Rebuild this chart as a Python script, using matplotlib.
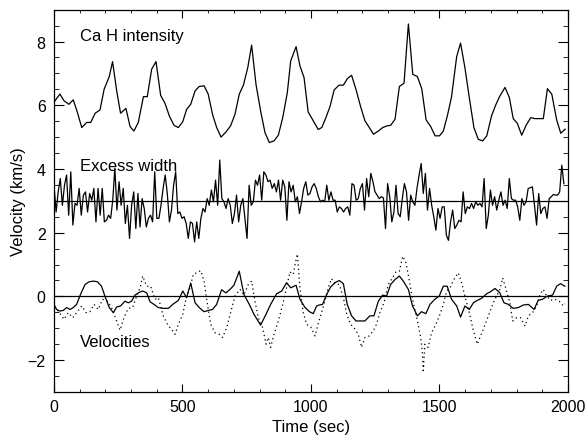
import numpy as np
import matplotlib
matplotlib.use('Agg')
import matplotlib.pyplot as plt
from matplotlib.ticker import MultipleLocator

plt.rcParams['font.family'] = ['Liberation Sans', 'DejaVu Sans']

# Ca H intensity
cah_time = [4, 23, 39, 58, 75, 92, 108, 127, 143, 160, 179, 195, 215, 228, 244, 259, 280, 296, 311, 328,
            348, 363, 380, 397, 415, 432, 449, 467, 484, 501, 516, 532, 549, 565, 584, 600, 617, 633, 650, 669,
            687, 704, 721, 737, 754, 769, 786, 804, 821, 838, 856, 873, 890, 908, 921, 942, 957, 973, 989, 1009,
            1028, 1042, 1058, 1074, 1090, 1109, 1126, 1142, 1158, 1175, 1193, 1210, 1227, 1243, 1262, 1279, 1295,
            1310, 1327, 1344, 1362, 1379, 1396, 1414, 1431, 1448, 1466, 1483, 1500, 1515, 1531, 1547, 1567, 1582,
            1599, 1616, 1634, 1651, 1668, 1684, 1703, 1720, 1735, 1755, 1772, 1787, 1803, 1820, 1837, 1855, 1872,
            1888, 1904, 1920, 1937, 1956, 1972, 1989]
cah_vals = [6.14, 6.35, 6.14, 6.03, 6.17, 5.75, 5.30, 5.46, 5.46, 5.75, 5.85, 6.50, 6.90, 7.37, 6.45, 5.75,
            5.90, 5.33, 5.19, 5.46, 6.27, 6.27, 7.13, 7.37, 6.31, 6.06, 5.66, 5.37, 5.30, 5.48, 5.87, 6.03,
            6.45, 6.59, 6.61, 6.35, 5.71, 5.30, 5.00, 5.16, 5.35, 5.71, 6.35, 6.63, 7.18, 7.89, 6.66, 5.82,
            5.14, 4.83, 4.88, 5.06, 5.61, 6.40, 7.39, 7.84, 7.24, 6.87, 5.79, 5.51, 5.24,
            5.30, 5.61, 5.96, 6.48, 6.63, 6.63, 6.84, 6.94, 6.50, 5.96, 5.51, 5.30, 5.09, 5.19, 5.30, 5.35,
            5.37, 5.56, 6.59, 6.69, 8.55, 6.97, 6.90, 6.52, 5.54, 5.33, 5.04, 5.04, 5.19, 5.68, 6.27, 7.53,
            7.95, 7.18, 6.24, 5.30, 4.93, 4.88, 5.04, 5.68, 6.03, 6.29, 6.56, 6.24, 5.58, 5.43, 5.06, 5.37,
            5.61, 5.58, 5.58, 5.58, 6.52, 6.35, 5.54, 5.12, 5.25]

# excess width, sampled evenly from 0 to ~1984 s
width_start, width_end = 0, 1984
width_vals = [3.49, 2.65, 3.28, 3.70, 2.86, 3.49, 3.81, 2.55, 3.91, 2.24, 2.92, 2.86, 3.39, 2.55, 3.18, 3.28,
              2.65, 3.23, 3.02, 3.39, 2.34, 3.39, 2.55, 3.39, 2.34, 2.39, 2.55, 2.45, 3.02, 4.02, 2.71, 3.60,
              2.86, 3.39, 2.29, 2.86, 1.82, 2.86, 3.28, 2.13, 3.23, 2.18, 3.07, 2.76, 2.18, 2.45, 2.55, 2.34,
              3.91, 2.45, 2.45, 2.86, 3.39, 3.81, 3.23, 2.34, 2.71, 3.49, 3.91, 2.60, 2.65, 2.45, 2.50, 2.29,
              1.82, 2.34, 2.29, 1.71, 2.34, 1.82, 2.45, 2.76, 2.65, 3.07, 2.86, 3.34, 2.97, 3.65, 2.86, 4.28,
              3.07, 2.97, 2.76, 3.07, 2.86, 2.29, 2.60, 3.18, 2.34, 2.86, 3.07, 2.45, 1.82, 3.49, 2.86, 2.97,
              3.65, 3.49, 3.81, 3.02, 3.91, 3.81, 3.60, 3.65, 3.39, 3.54, 3.28, 3.65, 3.02, 3.65, 3.44, 2.39,
              3.60, 3.28, 3.49, 2.97, 3.13, 2.60, 2.97, 3.39, 3.60, 3.18, 3.23, 3.44, 3.54, 3.39, 3.13, 2.97,
              3.02, 2.97, 3.49,
              3.02, 3.28, 3.02, 3.02, 2.65, 2.81, 2.76, 2.65, 2.76, 2.81, 2.55, 3.54, 3.49, 3.02, 3.07, 3.39,
              3.54, 2.71, 3.70, 3.13, 3.86, 3.60, 3.28, 3.18, 3.07, 3.13, 3.09, 2.13, 3.54, 3.13, 2.34, 2.65,
              3.49, 2.60, 2.50, 3.07, 3.54, 3.28, 2.39, 3.18, 2.97, 2.86, 3.39, 3.81, 4.17, 3.23, 3.86, 2.71,
              3.39, 2.86, 2.50, 2.08, 2.76, 2.45, 2.81, 2.81, 1.92, 1.76, 2.34, 2.71, 2.13, 2.24, 2.39, 2.34,
              3.28, 2.60, 2.81, 2.76, 2.92, 2.76, 2.97, 2.86, 2.92, 2.81, 3.70, 2.13, 2.55, 3.34, 2.86, 3.13,
              2.71, 3.02, 3.28, 2.86, 3.02, 2.76, 3.70, 3.07, 3.02, 3.02, 2.81, 2.39, 3.07, 2.86, 2.97, 3.39,
              3.41, 3.44, 2.86, 2.24, 3.23, 2.60, 2.76, 2.81, 2.45, 3.07, 3.13, 3.20, 3.18, 3.18, 3.28, 4.12,
              3.54]
width_level = 3.0

# velocities: solid and dotted curves
vel_solid_time = [0, 10, 23, 36, 49, 62, 75, 88, 104, 121, 137, 153, 169, 185, 198, 215, 231, 244, 259, 276,
                  289, 302, 315, 328, 345, 361, 374, 389, 406, 425, 445, 462, 484, 501, 516, 532, 549, 565, 584,
                  601, 617, 633, 652, 669, 685, 700, 721, 739, 760, 778, 804, 825, 843, 866, 886, 905, 921, 942,
                  957, 977, 994, 1009, 1022, 1032,
                  1045, 1061, 1076, 1093, 1110, 1126, 1141, 1158, 1175, 1191, 1210, 1229, 1245, 1262, 1279, 1294,
                  1310, 1327, 1344, 1359, 1379, 1395, 1414, 1430, 1447, 1463, 1482, 1499, 1515, 1530, 1547, 1567,
                  1582, 1599, 1616, 1632, 1647, 1664, 1683, 1699, 1716, 1735, 1751, 1768, 1787, 1807, 1826, 1846,
                  1868, 1884, 1901, 1919, 1940, 1956, 1971, 1988]
vel_solid = [-0.25, -0.41, -0.46, -0.44, -0.35, -0.41, -0.35, -0.25, 0.08, 0.375, 0.46, 0.48, 0.46, 0.32, 0.01,
             -0.35, -0.51, -0.33, -0.30, -0.15, -0.20, -0.15, 0.04, 0.11, 0.17, 0.11, -0.17, -0.25, -0.35,
             -0.375, -0.375, -0.25, -0.125, 0.17, -0.04, 0.42, -0.20, -0.35, -0.48, -0.44, -0.41, -0.25, 0.21,
             0.11, 0.22, 0.35, 0.79, 0.06, -0.25, -0.56, -0.90, -0.56, -0.25, 0.08, 0.17, 0.43, 0.27, 0.35,
             -0.09, -0.35, -0.48, -0.54, -0.30, -0.27,
             -0.25, 0.06, 0.29, 0.43, 0.50, 0.40, -0.25, -0.61, -0.77, -0.77, -0.77, -0.61, -0.61, -0.15, 0.04,
             0.01, 0.375, 0.53, 0.64, 0.48, 0.22, -0.30, -0.61, -0.48, -0.54, -0.25, -0.09, 0.01, 0.32, 0.32,
             -0.09, -0.30, -0.65, -0.30, -0.41, -0.20, -0.125, -0.06, 0.08, 0.15, 0.25, 0.11, -0.20, -0.25,
             -0.375, -0.35, -0.27, -0.25, -0.41, -0.125, -0.09, 0.01, 0.04, 0.32, 0.40, 0.32]

vel_dot_time = [0, 17, 39, 56, 73, 88, 108, 125, 140, 156, 172, 189, 208, 224, 241, 257, 272, 289, 306, 322,
                335, 345, 361, 376, 393, 406, 425, 445, 458, 471, 484, 501, 516, 529, 542, 555, 571, 584, 597,
                610, 626, 643, 656, 672, 687, 704, 724, 739, 756, 769, 782, 795, 812, 825, 834, 843, 856, 873,
                890, 905, 918, 931, 938, 947, 957, 970, 983, 999, 1016, 1029,
                1041, 1054, 1067, 1080, 1093, 1110, 1126, 1139, 1154, 1167, 1184, 1197, 1210, 1227, 1242, 1255,
                1268, 1284, 1301, 1318, 1331, 1344, 1357, 1370, 1383, 1398, 1414, 1427, 1433, 1437, 1443, 1456,
                1469, 1486, 1502, 1515, 1528, 1541, 1556, 1573, 1586, 1599, 1616, 1632, 1647, 1660, 1673, 1690,
                1707, 1722, 1735, 1746, 1761, 1774, 1785, 1800, 1816, 1833, 1846, 1862, 1878, 1891, 1904, 1917,
                1932, 1949, 1966, 1982, 1988]
vel_dot = [-0.35, -0.46, -0.72, -0.51, -0.67, -0.51, -0.30, -0.51, -0.48, -0.25, -0.41, -0.09, -0.15, -0.35,
           -0.72, -1.06, -0.67, -0.375, -0.35, 0.01, 0.27, 0.64, 0.32, 0.32, -0.09, -0.04, -0.61, -0.93, -1.03,
           -1.19, -0.875, -0.56, 0.01, 0.27, 0.69, 0.74, 0.81, 0.48, -0.25, -0.875, -1.14, -1.19, -1.29, -0.98,
           -0.51, 0.01, 0.22, 0.04, 0.375, 0.48, -0.15, -0.67, -0.98, -1.5, -1.29, -1.60, -1.19, -0.77, -0.25,
           0.27, 0.77, 0.69, 1.0, 1.33, 0.27, -0.51, -0.875, -0.96, -1.24, -0.82,
           -0.51, -0.15, 0.27, 0.56, 0.40, 0.375, -0.04, -0.56, -0.875, -0.98, -1.19, -1.60, -1.29, -1.24,
           -1.08, -0.875, -0.51, -0.20, 0.375, 0.60, 0.77, 0.79, 1.26, 1.05, 0.48, -0.20, -0.77, -1.29, -1.71,
           -2.39, -1.5, -1.60, -1.14, -0.875, -0.56, -0.25, 0.17, 0.27, 0.53, 0.74, 0.43, 0.01, -0.51, -1.08,
           -1.5, -1.24, -0.98, -0.61, -0.25, 0.01, 0.22, 0.58, 0.17, -0.20, -0.77, -0.67, -0.67, -0.93, -0.61,
           -0.51, -0.30, 0.06, 0.22, 0.01, -0.125, -0.09, -0.15, -0.30, -0.23]
vel_level = 0.0

labels = ['Ca H intensity', 'Excess width', 'Velocities']
label_pos = [(100, 8.2), (100, 4.1), (100, -1.4)]


def main():
    fig = plt.figure(figsize=(5.85, 4.39), dpi=100)
    ax = fig.add_axes([0.0923, 0.1048, 0.8786, 0.8709])

    width_time = np.linspace(width_start, width_end, len(width_vals))

    ax.plot(cah_time, cah_vals, color='black', lw=0.9)
    ax.plot(width_time, width_vals, color='black', lw=0.9)
    ax.axhline(width_level, color='black', lw=0.9)
    ax.plot(vel_solid_time, vel_solid, color='black', lw=0.9)
    ax.plot(vel_dot_time, vel_dot, color='black', lw=0.9, linestyle=(0, (1, 2.5)))
    ax.axhline(vel_level, color='black', lw=0.9)

    for text, (x, y) in zip(labels, label_pos):
        ax.text(x, y, text, fontsize=12, va='center', ha='left')

    ax.set_xlim(0, 2000)
    ax.set_ylim(-3, 9)
    ax.xaxis.set_major_locator(MultipleLocator(500))
    ax.xaxis.set_minor_locator(MultipleLocator(100))
    ax.yaxis.set_major_locator(MultipleLocator(2))
    ax.yaxis.set_minor_locator(MultipleLocator(0.5))
    ax.tick_params(axis='both', which='both', direction='in', top=True, right=True, labelsize=11.5)
    ax.tick_params(axis='x', which='major', length=5.5, pad=5)
    ax.tick_params(axis='x', which='minor', length=2.5)
    ax.tick_params(axis='y', which='major', length=7.5, pad=6)
    ax.tick_params(axis='y', which='minor', length=3.7)
    for spine in ax.spines.values():
        spine.set_linewidth(0.9)

    ax.set_xlabel('Time (sec)', fontsize=12, labelpad=3.5)
    ax.set_ylabel('Velocity (km/s)', fontsize=12, labelpad=1)

    fig.savefig('out.png', dpi=100)


if __name__ == '__main__':
    main()
